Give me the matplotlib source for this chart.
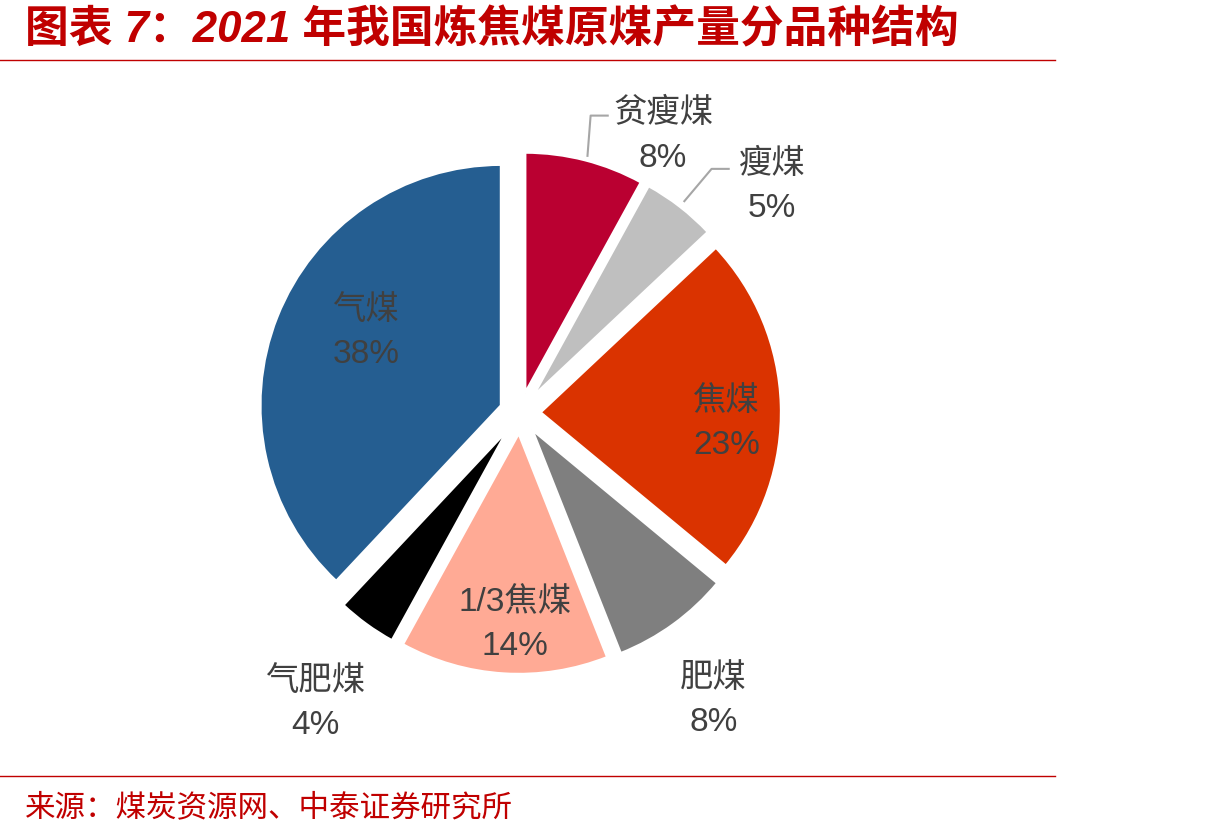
import matplotlib.pyplot as plt
from matplotlib.lines import Line2D

# 数据
categories = ['贫瘦煤', '瘦煤', '焦煤', '肥煤', '1/3焦煤', '气肥煤', '气煤']
shares = [8, 5, 23, 8, 14, 4, 38]
colors = ['#BA0031', '#BFBFBF', '#DA3300', '#7F7F7F', '#FFAA95', '#000000', '#255E91']

# 标签位置（半径=1 的坐标）
label_pos = [(0.594, 1.15), (1.046, 0.941), (0.858, -0.043), (0.803, -1.193),
             (-0.021, -0.879), (-0.849, -1.206), (-0.640, 0.334)]
# 引导线
leaders = {
    0: [(0.280, 1.067), (0.293, 1.234), (0.364, 1.234)],
    1: [(0.682, 0.879), (0.795, 1.013), (0.866, 1.013)],
}

FONT = ['Liberation Sans', 'Noto Sans CJK SC']
RED = '#C00000'

fig = plt.figure(figsize=(12.16, 8.4), dpi=100)

# 标题与分隔线
fig.text(25 / 1216, 1 - 30 / 840, '图表 7：2021 年我国炼焦煤原煤产量分品种结构',
         family=FONT, fontsize=31.5, fontweight='bold', fontstyle='italic',
         color=RED, va='center', ha='left')
fig.add_artist(Line2D([0, 1055 / 1216], [1 - 60 / 840] * 2, color=RED, lw=1.0))
fig.add_artist(Line2D([0, 1055 / 1216], [1 - 776 / 840] * 2, color=RED, lw=1.0))
fig.text(25 / 1216, 1 - 808 / 840, '来源：煤炭资源网、中泰证券研究所',
         family=FONT, fontsize=22, color=RED, va='center', ha='left')

# 饼图
ax = fig.add_axes([220 / 1216, 127 / 840, 600 / 1216, 600 / 840])
ax.pie(shares, colors=colors, startangle=90, counterclock=False,
       explode=[0.084] * len(shares), radius=1,
       wedgeprops=dict(edgecolor='white', linewidth=2))
lim = 300 / 241
ax.set_xlim(-lim, lim)
ax.set_ylim(-lim, lim)
ax.set_aspect('equal')
ax.axis('off')

for i, (name, val) in enumerate(zip(categories, shares)):
    x, y = label_pos[i]
    ax.text(x, y, f'{name}\n{val}%', ha='center', va='center',
            family=FONT, fontsize=24, color='#404040', linespacing=1.55,
            clip_on=False)

for pts in leaders.values():
    xs, ys = zip(*pts)
    ax.plot(xs, ys, color='#A6A6A6', lw=1.5, clip_on=False)

fig.savefig('out.png', dpi=100)
